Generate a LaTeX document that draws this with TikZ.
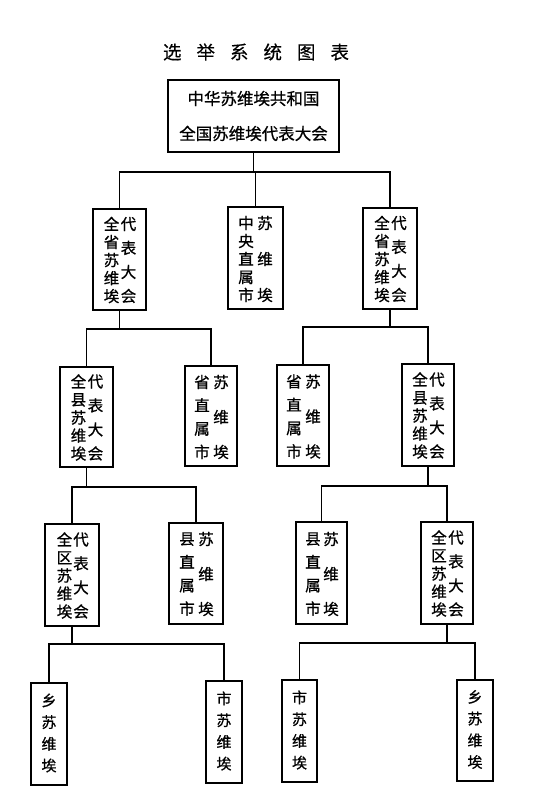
\documentclass[tikz,border=0pt]{standalone}
\usepackage{fontspec}
\newfontfamily\cjk{Noto Sans CJK SC}[FakeBold=0.8]
\newfontfamily\cjkt{Noto Sans CJK SC}[FakeBold=0.4]
\begin{document}
\begin{tikzpicture}[x=1pt,y=-1pt,
  box/.style={draw, line width=1.6pt, inner sep=0pt},
  conn/.style={line width=1.2pt},
  col/.style={font=\cjk\fontsize{15.5}{#1}\selectfont, align=center, inner sep=0pt},
  single/.style={font=\cjk\fontsize{15}{21.7}\selectfont, align=center, inner sep=0pt},
  titlef/.style={font=\cjkt\fontsize{18.5}{20}\selectfont, inner sep=0pt}]
\useasboundingbox (0,0) rectangle (556,805);

% title
\node[titlef] (title) at (256,52) {选\hspace{15pt}举\hspace{15pt}系\hspace{15pt}统\hspace{15pt}图\hspace{15pt}表};

% top box
\node[box, minimum width=171pt, minimum height=72pt, font=\cjk\fontsize{16.5}{35}\selectfont, align=center] (top) at (253.5,116) {中华苏维埃共和国\\全国苏维埃代表大会};

% level 2
\node[box, minimum width=53pt, minimum height=101pt] (L2a) at (119.5,259.5) {};
\node[col=18] (L2a-l) at (111.5,260) {全\\省\\苏\\维\\埃};
\node[col=24] (L2a-r) at (128.5,260) {代\\表\\大\\会};

\node[box, minimum width=55pt, minimum height=102pt] (L2b) at (255.5,258) {};
\node[col=18] (L2b-l) at (246,259) {中\\央\\直\\属\\市};
\node[col=36] (L2b-r) at (265,259) {苏\\维\\埃};

\node[box, minimum width=54pt, minimum height=101pt] (L2c) at (390,258.5) {};
\node[col=18] (L2c-l) at (382,259) {全\\省\\苏\\维\\埃};
\node[col=24] (L2c-r) at (399,259) {代\\表\\大\\会};

% level 3
\node[box, minimum width=53pt, minimum height=100pt] (L3a) at (86.5,417) {};
\node[col=18] (L3a-l) at (78.5,417.5) {全\\县\\苏\\维\\埃};
\node[col=24] (L3a-r) at (95.5,417.5) {代\\表\\大\\会};

\node[box, minimum width=52pt, minimum height=100pt] (L3b) at (211,416) {};
\node[col=23.3] (L3b-l) at (202,417) {省\\直\\属\\市};
\node[col=35] (L3b-r) at (221,417) {苏\\维\\埃};

\node[box, minimum width=52pt, minimum height=101pt] (L3c) at (303,415.5) {};
\node[col=23.3] (L3c-l) at (294,416.5) {省\\直\\属\\市};
\node[col=35] (L3c-r) at (313,416.5) {苏\\维\\埃};

\node[box, minimum width=52pt, minimum height=102pt] (L3d) at (428,415) {};
\node[col=18] (L3d-l) at (420,415.5) {全\\县\\苏\\维\\埃};
\node[col=24] (L3d-r) at (437,415.5) {代\\表\\大\\会};

% level 4
\node[box, minimum width=54pt, minimum height=102pt] (L4a) at (72,575) {};
\node[col=18] (L4a-l) at (64.5,575.5) {全\\区\\苏\\维\\埃};
\node[col=24] (L4a-r) at (81,575.5) {代\\表\\大\\会};

\node[box, minimum width=54pt, minimum height=101pt] (L4b) at (196,573.5) {};
\node[col=23.3] (L4b-l) at (187,574) {县\\直\\属\\市};
\node[col=35] (L4b-r) at (206,574) {苏\\维\\埃};

\node[box, minimum width=51pt, minimum height=102pt] (L4c) at (321.5,573) {};
\node[col=23.3] (L4c-l) at (313,574) {县\\直\\属\\市};
\node[col=35] (L4c-r) at (331,574) {苏\\维\\埃};

\node[box, minimum width=52pt, minimum height=102pt] (L4d) at (447,573) {};
\node[col=18] (L4d-l) at (439,573.5) {全\\区\\苏\\维\\埃};
\node[col=24] (L4d-r) at (456,573.5) {代\\表\\大\\会};

% level 5
\node[box, minimum width=36pt, minimum height=102pt] (L5a) at (49,734) {};
\node[single] (L5a-t) at (49,733) {乡\\苏\\维\\埃};
\node[box, minimum width=36pt, minimum height=102pt] (L5b) at (224,732) {};
\node[single] (L5b-t) at (224,731) {市\\苏\\维\\埃};
\node[box, minimum width=35pt, minimum height=102pt] (L5c) at (299.5,731) {};
\node[single] (L5c-t) at (299.5,730) {市\\苏\\维\\埃};
\node[box, minimum width=36pt, minimum height=101pt] (L5d) at (475,730.5) {};
\node[single] (L5d-t) at (475,729.5) {乡\\苏\\维\\埃};

% buses
\coordinate (bus1) at (0,172);
\coordinate (bus2l) at (0,329);
\coordinate (bus2r) at (0,327);
\coordinate (bus3l) at (0,487);
\coordinate (bus3r) at (0,486);
\coordinate (bus4l) at (0,644);
\coordinate (bus4r) at (0,643);

% connectors
\draw[conn] (top.south) -- (top.south |- bus1);
\draw[conn] (L2a.north) -- (L2a.north |- bus1) -- (L2c.north |- bus1) -- (L2c.north);
\draw[conn] (L2b.north) -- (L2b.north |- bus1);

\draw[conn] (L2a.south) -- (L2a.south |- bus2l);
\draw[conn] (L3a.north) -- (L3a.north |- bus2l) -- (L3b.north |- bus2l) -- (L3b.north);
\draw[conn] (L2c.south) -- (L2c.south |- bus2r);
\draw[conn] (L3c.north) -- (L3c.north |- bus2r) -- (L3d.north |- bus2r) -- (L3d.north);

\draw[conn] (L3a.south) -- (L3a.south |- bus3l);
\draw[conn] (L4a.north) -- (L4a.north |- bus3l) -- (L4b.north |- bus3l) -- (L4b.north);
\draw[conn] (L3d.south) -- (L3d.south |- bus3r);
\draw[conn] (L4c.north) -- (L4c.north |- bus3r) -- (L4d.north |- bus3r) -- (L4d.north);

\draw[conn] (L4a.south) -- (L4a.south |- bus4l);
\draw[conn] (L5a.north) -- (L5a.north |- bus4l) -- (L5b.north |- bus4l) -- (L5b.north);
\draw[conn] (L4d.south) -- (L4d.south |- bus4r);
\draw[conn] (L5c.north) -- (L5c.north |- bus4r) -- (L5d.north |- bus4r) -- (L5d.north);
\end{tikzpicture}
\end{document}
